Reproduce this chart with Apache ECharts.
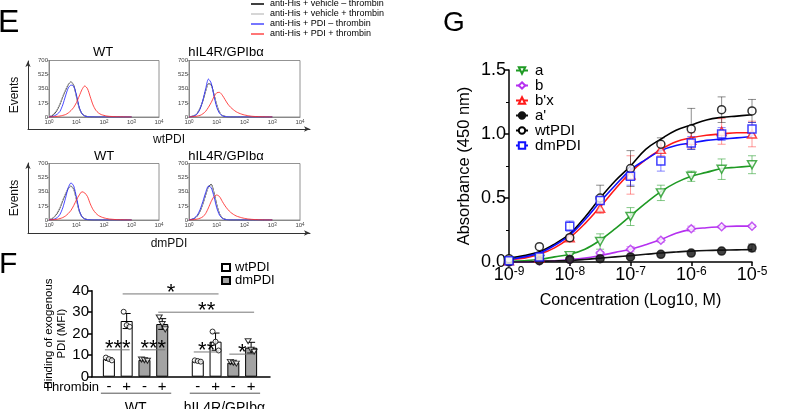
<!DOCTYPE html>
<html><head><meta charset="utf-8">
<script src="https://cdn.jsdelivr.net/npm/echarts@6/dist/echarts.min.js"></script>
<style>html,body{margin:0;padding:0;background:#fff}#c{width:800px;height:409px}</style>
</head><body><div id="c"></div>
<script>
const FF = 'Liberation Sans, Arial, Helvetica, sans-serif';

// ---------- Panel E: flow histograms (x in log10 decades, counts) ----------
const histBins = [0,0.1,0.2,0.3,0.4,0.5,0.6,0.7,0.8,0.9,1.0,1.1,1.2,1.3,1.4,1.5,1.6,1.7,1.8,1.9,2.0,2.1,2.2,2.3,2.4,2.5,2.6,2.7,2.8,2.9,3.0];
const eNames = ['anti-His + vehicle \u2013 thrombin','anti-His + vehicle + thrombin','anti-His + PDI \u2013 thrombin','anti-His + PDI + thrombin'];
// WT / wtPDI
const e1Black = [5,15,40,90,160,250,330,400,435,390,250,110,40,15,6,3,2,1,0,0,0,0,0,0,0,0,0,0,0,0,0];
const e1Gray  = [8,20,50,100,170,260,340,405,430,380,240,105,40,15,6,3,2,1,0,0,0,0,0,0,0,0,0,0,0,0,0];
const e1Blue  = [2,6,15,35,70,150,260,360,395,380,270,120,40,12,4,2,1,0,0,0,0,0,0,0,0,0,0,0,0,0,0];
const e1Red   = [0,2,4,8,12,20,30,50,80,120,180,260,340,385,350,250,150,85,50,30,20,12,8,6,4,3,2,1,0,0,0];
// hIL4R/GPIba / wtPDI
const e2Black = [3,8,20,50,110,200,320,410,400,280,150,60,20,8,3,1,0,0,0,0,0,0,0,0,0,0,0,0,0,0,0];
const e2Gray  = [4,10,22,55,115,205,325,405,390,275,145,58,20,8,3,1,0,0,0,0,0,0,0,0,0,0,0,0,0,0,0];
const e2Blue  = [2,5,15,40,100,210,350,470,420,260,120,45,15,5,2,0,0,0,0,0,0,0,0,0,0,0,0,0,0,0,0];
const e2Red   = [1,3,6,12,20,40,70,120,180,250,300,305,270,215,160,120,90,65,48,35,25,18,12,8,6,4,3,2,1,0,0];
// WT / dmPDI
const e3Black = [5,15,40,85,150,240,320,390,420,380,250,110,40,15,6,2,1,0,0,0,0,0,0,0,0,0,0,0,0,0,0];
const e3Gray  = [7,18,45,95,160,250,330,395,415,370,240,105,40,15,6,2,1,0,0,0,0,0,0,0,0,0,0,0,0,0,0];
const e3Blue  = [2,5,12,30,70,150,270,400,460,420,280,120,40,12,4,2,0,0,0,0,0,0,0,0,0,0,0,0,0,0,0];
const e3Red   = [1,3,6,10,18,30,50,80,120,180,250,310,350,335,290,200,130,85,55,38,26,18,12,9,6,4,3,2,1,0,0];
// hIL4R/GPIba / dmPDI
const e4Black = [3,8,20,50,110,200,310,410,440,340,190,80,28,10,4,1,0,0,0,0,0,0,0,0,0,0,0,0,0,0,0];
const e4Gray  = [4,10,24,55,115,205,315,405,430,330,185,78,28,10,4,1,0,0,0,0,0,0,0,0,0,0,0,0,0,0,0];
const e4Blue  = [3,8,25,60,130,230,340,420,400,290,150,60,20,6,2,0,0,0,0,0,0,0,0,0,0,0,0,0,0,0,0];
const e4Red   = [1,3,6,12,22,40,80,150,230,290,310,290,230,175,130,95,70,50,38,28,20,14,10,7,5,3,2,1,0,0,0];

// ---------- Panel F: bars ----------
const fCats  = ['-','+','-','+','','-','+','-','+'];
const fSlot  = [0,1,2,3,5,6,7,8];
const fKind  = ['wt','wt','dm','dm','wt','wt','dm','dm'];
const fMean  = [8.2,25.9,7.8,24.5,7.3,16.3,6.5,13.5];
const fSd    = [0.6,3.5,0.4,2.5,0.4,4.0,0.5,2.5];
const fDots  = [[8.9,8.2,7.6],[30.2,24.0,23.2],[8.0,7.7,7.4],[27.5,24.5,22.0],[7.6,7.3,7.0],[21.0,16.3,12.2],[6.9,6.5,6.1],[16.5,12.5,11.6]];
const fSig   = [[0,1,12.5,'***'],[2,3,12.5,'***'],[5,6,11.5,'**'],[7,8,10.5,'*'],[1,6,38.5,'*'],[3,8,30.0,'**']];
const fGroups = [[0,3,'WT'],[5,8,'hIL4R/GPIb\u03b1']];

// ---------- Panel G: binding curves (x = log10 M) ----------
const gX    = [-9,-8.5,-8,-7.5,-7,-6.5,-6,-5.5,-5];
const gA    = [0.00,0.02,0.05,0.16,0.355,0.54,0.67,0.725,0.76];
const gAsd  = [0,0,0.01,0.06,0.07,0.06,0.04,0.08,0.07];
const gB    = [0.00,0.01,0.02,0.07,0.10,0.17,0.26,0.275,0.28];
const gBsd  = [0,0,0,0.01,0.02,0.015,0.02,0.01,0.01];
const gBx   = [0.01,0.03,0.19,0.42,0.68,0.88,0.95,1.02,1.00];
const gBxsd = [0,0,0.02,0.04,0.15,0.05,0.06,0.10,0.10];
const gAp   = [0.00,0.01,0.02,0.026,0.04,0.06,0.07,0.085,0.11];
const gApsd = [0,0,0,0,0,0,0,0,0.03];
const gWt   = [0.026,0.12,0.19,0.50,0.73,0.92,1.04,1.19,1.18];
const gWtsd = [0,0,0.02,0.10,0.14,0.05,0.16,0.10,0.09];
const gDm   = [0.01,0.04,0.28,0.48,0.67,0.79,0.93,1.00,1.04];
const gDmsd = [0,0,0.04,0.03,0.07,0.08,0.05,0.05,0.05];
const gCurveX = [-9,-8.75,-8.5,-8.25,-8,-7.75,-7.5,-7.25,-7,-6.75,-6.5,-6.25,-6,-5.75,-5.5,-5.25,-5];
const gCurveA  = [0.005,0.01,0.02,0.04,0.06,0.10,0.17,0.26,0.36,0.46,0.55,0.62,0.67,0.70,0.73,0.74,0.75];
const gCurveB  = [0.0,0.0,0.005,0.01,0.02,0.03,0.05,0.075,0.10,0.135,0.175,0.225,0.255,0.268,0.275,0.28,0.28];
const gCurveBx = [0.02,0.03,0.06,0.11,0.19,0.30,0.43,0.57,0.70,0.80,0.88,0.94,0.97,0.99,1.00,1.01,1.01];
const gCurveAp = [0.0,0.0,0.005,0.008,0.012,0.02,0.03,0.04,0.05,0.06,0.07,0.078,0.085,0.09,0.093,0.095,0.097];
const gCurveWt = [0.03,0.05,0.08,0.14,0.22,0.35,0.50,0.635,0.75,0.88,0.96,1.03,1.07,1.11,1.13,1.14,1.15];
const gCurveDm = [0.02,0.04,0.07,0.13,0.21,0.33,0.47,0.60,0.72,0.80,0.87,0.91,0.93,0.95,0.96,0.97,0.98];

const chart = echarts.init(document.getElementById('c'));
const grid = [], xAxis = [], yAxis = [], series = [];

// ---- E histograms ----
const histGrids = [
  {left:49, top:60.5, width:110, height:56.5},
  {left:189, top:60.5, width:111, height:56.5},
  {left:49, top:163.5, width:110, height:56.5},
  {left:189, top:163.5, width:111, height:56.5}
];
const histSets = [[e1Black,e1Gray,e1Blue,e1Red],[e2Black,e2Gray,e2Blue,e2Red],[e3Black,e3Gray,e3Blue,e3Red],[e4Black,e4Gray,e4Blue,e4Red]];
const histColors = ['#000000','#c8c8c8','rgba(40,40,255,0.85)','rgba(255,40,40,0.85)'];
const histOrder = [1,2,0,3];
histGrids.forEach((g,gi)=>{
  grid.push(Object.assign({show:true, borderColor:'#777', borderWidth:0.8, backgroundColor:'transparent'}, g));
  xAxis.push({gridIndex:gi, type:'value', min:0, max:4, interval:1,
    axisLine:{show:true, lineStyle:{color:'#777', width:0.8}}, axisTick:{show:false}, splitLine:{show:false},
    axisLabel:{margin:2, color:'#444', formatter:v=>'{b|10}{s|'+v+'}',
      rich:{b:{fontSize:6, fontFamily:FF, color:'#444'}, s:{fontSize:4.5, verticalAlign:'top', fontFamily:FF, color:'#444'}}}});
  yAxis.push({gridIndex:gi, type:'value', min:0, max:700, interval:175,
    axisLine:{show:true, lineStyle:{color:'#777', width:0.8}}, axisTick:{show:true, length:2, lineStyle:{color:'#777', width:0.6}},
    splitLine:{show:false}, axisLabel:{fontSize:6, margin:1, color:'#444', fontFamily:FF}});
  histOrder.forEach(k=>{
    series.push({type:'line', name:eNames[k], xAxisIndex:gi, yAxisIndex:gi, symbol:'none', smooth:0.25,
      data: histBins.map((b,i)=>[b, histSets[gi][k][i]]),
      lineStyle:{color:histColors[k], width:1}, itemStyle:{color:histColors[k]}, z:2+k, silent:true, animation:false});
  });
});

// ---- E outer arrow axes ----
[[61,68,'wtPDI'],[163,70,'dmPDI']].forEach(([top,h,nm],j)=>{
  const gi = grid.length;
  grid.push({left:28, top:top, width:282, height:h, show:false});
  xAxis.push({gridIndex:gi, type:'value', min:0, max:1, axisLine:{show:true, symbol:['none','arrow'], symbolSize:[4,6], lineStyle:{color:'#333', width:1}},
    axisTick:{show:false}, axisLabel:{show:false}, splitLine:{show:false},
    name:nm, nameLocation:'middle', nameGap:5, nameTextStyle:{fontSize:12, fontFamily:FF, color:'#111', verticalAlign:'top'}});
  yAxis.push({gridIndex:gi, type:'value', min:0, max:1, axisLine:{show:true, symbol:['none','arrow'], symbolSize:[4,6], lineStyle:{color:'#333', width:1}},
    axisTick:{show:false}, axisLabel:{show:false}, splitLine:{show:false},
    name:'Events', nameLocation:'middle', nameGap:7, nameRotate:90, nameTextStyle:{fontSize:12, fontFamily:FF, color:'#111'}});
});

// ---- F frame grid ----
const fFrame = grid.length;
grid.push({left:92, top:290.7, width:178, height:86, show:false});
xAxis.push({gridIndex:fFrame, type:'value', min:0, max:1, axisLine:{show:true, lineStyle:{color:'#000', width:1.5}},
  axisTick:{show:false}, axisLabel:{show:false}, splitLine:{show:false}});
yAxis.push({gridIndex:fFrame, type:'value', min:0, max:40, interval:10, axisLine:{show:true, lineStyle:{color:'#000', width:1.5}},
  axisTick:{show:true, length:4, lineStyle:{width:1.5}}, splitLine:{show:false},
  axisLabel:{fontSize:15, margin:3, color:'#000', fontFamily:FF},
  name:'Binding of exogenous\nPDI (MFI)', nameLocation:'middle', nameGap:17, nameRotate:90,
  nameTextStyle:{fontSize:11.5, lineHeight:13, fontFamily:FF, color:'#000', align:'center'}});

// ---- F data grid ----
const fG = grid.length;
grid.push({left:100, top:290.7, width:160, height:86, show:false});
xAxis.push({gridIndex:fG, type:'category', data:fCats, axisLine:{show:false}, axisTick:{show:false},
  axisLabel:{fontSize:15, margin:3, color:'#000', fontFamily:FF, interval:0},
  name:'Thrombin', nameLocation:'start', nameGap:1, nameTextStyle:{fontSize:13, fontFamily:FF, color:'#000', verticalAlign:'top', padding:[4,0,0,0]}});
yAxis.push({gridIndex:fG, type:'value', min:0, max:40, show:false});

series.push({type:'bar', name:'F-wtPDI', xAxisIndex:fG, yAxisIndex:fG, barWidth:12, barGap:'-100%',
  data: fCats.map((c,i)=>{const k=fSlot.indexOf(i); return (k>=0 && fKind[k]==='wt') ? fMean[k] : '-';}),
  itemStyle:{color:'#ffffff', borderColor:'#000', borderWidth:1}, z:2, animation:false});
series.push({type:'bar', name:'F-dmPDI', xAxisIndex:fG, yAxisIndex:fG, barWidth:12, barGap:'-100%',
  data: fCats.map((c,i)=>{const k=fSlot.indexOf(i); return (k>=0 && fKind[k]==='dm') ? fMean[k] : '-';}),
  itemStyle:{color:'#a3a3a3', borderColor:'#000', borderWidth:1}, z:2, animation:false});

function errItem(color, cap, lw){
  return function(params, api){
    const x = api.value(0), m = api.value(1), s = api.value(2);
    const t = api.coord([x, m+s]), b = api.coord([x, m-s]);
    const st = {stroke:color, lineWidth:lw};
    return {type:'group', children:[
      {type:'line', shape:{x1:t[0], y1:t[1], x2:b[0], y2:b[1]}, style:st},
      {type:'line', shape:{x1:t[0]-cap, y1:t[1], x2:t[0]+cap, y2:t[1]}, style:st},
      {type:'line', shape:{x1:b[0]-cap, y1:b[1], x2:b[0]+cap, y2:b[1]}, style:st}
    ]};
  };
}
series.push({type:'custom', name:'F-err', xAxisIndex:fG, yAxisIndex:fG, z:5, clip:false, animation:false,
  renderItem: errItem('#000', 4, 1), data: fMean.map((m,k)=>[fSlot[k], m, fSd[k]])});
// dots
const dotOff = [-3,0,3];
['wt','dm'].forEach(kind=>{
  const pts = [];
  fMean.forEach((m,k)=>{ if(fKind[k]===kind) fDots[k].forEach((v,j)=>pts.push({value:[fSlot[k], v], symbolOffset:[dotOff[j],0]})); });
  series.push({type:'scatter', name:'F-dots-'+kind, xAxisIndex:fG, yAxisIndex:fG, z:6, animation:false,
    symbol: kind==='wt' ? 'circle' : 'path://M0,0 L10,0 L5,9 Z', symbolSize: kind==='wt' ? 5 : [6,5],
    itemStyle:{color:'#fff', borderColor:'#000', borderWidth:1}, data:pts});
});
// significance
series.push({type:'custom', name:'F-sig', xAxisIndex:fG, yAxisIndex:fG, z:7, clip:false, animation:false,
  data: fSig.map(s=>[s[0], s[1], s[2]]),
  renderItem:(params, api)=>{
    const a = api.coord([api.value(0), api.value(2)]), b = api.coord([api.value(1), api.value(2)]);
    const txt = fSig[params.dataIndex][3];
    return {type:'group', children:[
      {type:'line', shape:{x1:a[0]-4, y1:a[1], x2:b[0]+3, y2:b[1]}, style:{stroke:'#777', lineWidth:1}},
      {type:'text', style:{text:txt, x:(a[0]+b[0])/2, y:a[1]+10, textAlign:'center', textVerticalAlign:'bottom', fontSize:22, fontFamily:FF, fill:'#000'}}
    ]};
  }});
// group labels
series.push({type:'custom', name:'F-groups', xAxisIndex:fG, yAxisIndex:fG, z:7, clip:false, animation:false,
  data: fGroups.map(g=>[g[0], g[1]]),
  renderItem:(params, api)=>{
    const a = api.coord([api.value(0), 0]), b = api.coord([api.value(1), 0]);
    return {type:'group', children:[
      {type:'line', shape:{x1:a[0]-8, y1:a[1]+16.5, x2:b[0]+9, y2:b[1]+16.5}, style:{stroke:'#555', lineWidth:1}},
      {type:'text', style:{text:fGroups[params.dataIndex][2], x:(a[0]+b[0])/2, y:a[1]+31, textAlign:'center', textVerticalAlign:'middle', fontSize:14, fontFamily:FF, fill:'#000'}}
    ]};
  }});

// ---- G ----
const gG = grid.length;
grid.push({left:509, top:70, width:243, height:192, show:false});
xAxis.push({gridIndex:gG, type:'value', min:-9, max:-5, interval:1,
  axisLine:{show:true, lineStyle:{color:'#000', width:1.5}}, axisTick:{show:true, length:4, lineStyle:{width:1.5}},
  splitLine:{show:false},
  axisLabel:{margin:4, color:'#000', formatter:v=>'{b|10}{s|'+v+'}',
    rich:{b:{fontSize:18, fontFamily:FF, color:'#000'}, s:{fontSize:12, verticalAlign:'top', fontFamily:FF, color:'#000'}}},
  name:'Concentration (Log10, M)', nameLocation:'middle', nameGap:31, nameTextStyle:{fontSize:16, fontFamily:FF, color:'#000'}});
yAxis.push({gridIndex:gG, type:'value', min:0, max:1.5, interval:0.5,
  axisLine:{show:true, lineStyle:{color:'#000', width:1.5}}, axisTick:{show:true, length:5, lineStyle:{width:1.5}},
  minorTick:{show:true, splitNumber:2, length:3, lineStyle:{color:'#000', width:1}},
  splitLine:{show:false},
  axisLabel:{fontSize:18, margin:3, color:'#000', fontFamily:FF, formatter:v=>v.toFixed(1)},
  name:'Absorbance (450 nm)', nameLocation:'middle', nameGap:36, nameTextStyle:{fontSize:16.5, fontFamily:FF, color:'#000'}});

const downTri = 'path://M0,0 L10,0 L5,9 Z';
const gSets = [
  {name:'a',     color:'#1f9a24', err:'rgba(31,154,36,0.55)',  sym:downTri,   size:[9,8], fill:'#fff', pts:gA,  sd:gAsd,  curve:gCurveA},
  {name:'b',     color:'#b530f0', err:'rgba(181,48,240,0.5)', sym:'diamond', size:[8,8], fill:'#fff', pts:gB,  sd:gBsd,  curve:gCurveB},
  {name:"b'x",   color:'#ff1a1a', err:'rgba(255,26,26,0.45)', sym:'triangle',size:[9,8], fill:'#fff', pts:gBx, sd:gBxsd, curve:gCurveBx},
  {name:"a'",    color:'#111111', err:'rgba(0,0,0,0.45)',     sym:'circle',  size:[8,8], fill:'#111', pts:gAp, sd:gApsd, curve:gCurveAp},
  {name:'wtPDI', color:'#000000', err:'rgba(0,0,0,0.45)',     sym:'circle',  size:[8,8], fill:'#fff', pts:gWt, sd:gWtsd, curve:gCurveWt},
  {name:'dmPDI', color:'#1010ff', err:'rgba(16,16,255,0.5)',  sym:'rect',    size:[8,8], fill:'#fff', pts:gDm, sd:gDmsd, curve:gCurveDm}
];
gSets.forEach((s,i)=>{
  series.push({type:'line', name:s.name, xAxisIndex:gG, yAxisIndex:gG, smooth:0.4, showSymbol:false,
    symbol:s.sym, symbolSize:s.size, data:gCurveX.map((x,j)=>[x, s.curve[j]]),
    lineStyle:{color:s.color, width:1.6}, itemStyle:{color:s.fill, borderColor:s.color, borderWidth:1.5},
    z:3, animation:false, silent:true});
});
gSets.forEach((s,i)=>{
  series.push({type:'custom', name:s.name+'-err', xAxisIndex:gG, yAxisIndex:gG, z:4, clip:false, animation:false,
    renderItem: errItem(s.err, 4, 1), data: gX.map((x,j)=>[x, s.pts[j], s.sd[j]]).filter(d=>d[2]>0)});
});
gSets.forEach((s,i)=>{
  series.push({type:'scatter', name:s.name, xAxisIndex:gG, yAxisIndex:gG, z:6+i, clip:false, animation:false,
    symbol:s.sym, symbolSize:s.size, data:gX.map((x,j)=>[x, s.pts[j]]),
    itemStyle:{color:s.fill, borderColor:s.color, borderWidth:1.5}});
});

const option = {
  backgroundColor:'#fff',
  animation:false,
  textStyle:{fontFamily:FF},
  grid, xAxis, yAxis, series,
  title:[
    {text:'E', left:-2, top:7, padding:0, textStyle:{fontSize:32, fontWeight:'normal', fontFamily:FF, color:'#000'}},
    {text:'F', left:-1, top:250, padding:0, textStyle:{fontSize:30, fontWeight:'normal', fontFamily:FF, color:'#000'}},
    {text:'G', left:443, top:9, padding:0, textStyle:{fontSize:28, fontWeight:'normal', fontFamily:FF, color:'#000'}},
    {text:'WT', left:103, top:45.5, padding:0, textAlign:'center', textStyle:{fontSize:13, fontWeight:'normal', fontFamily:FF, color:'#000'}},
    {text:'hIL4R/GPIb\u03b1', left:226, top:45.5, padding:0, textAlign:'center', textStyle:{fontSize:13, fontWeight:'normal', fontFamily:FF, color:'#000'}},
    {text:'WT', left:104, top:149.5, padding:0, textAlign:'center', textStyle:{fontSize:13, fontWeight:'normal', fontFamily:FF, color:'#000'}},
    {text:'hIL4R/GPIb\u03b1', left:226, top:149.5, padding:0, textAlign:'center', textStyle:{fontSize:13, fontWeight:'normal', fontFamily:FF, color:'#000'}}
  ],
  legend:[
    {data:gSets.map(s=>s.name), orient:'vertical', left:515, top:63, padding:0, itemWidth:12, itemHeight:8, itemGap:0,
      selectedMode:false, textStyle:{fontSize:15, lineHeight:14.2, fontFamily:FF, color:'#000', padding:[0,0,0,2]}},
    {data:eNames, orient:'vertical', left:251, top:-1, padding:0, itemWidth:13, itemHeight:1.5, itemGap:0, selectedMode:false,
      icon:'rect', textStyle:{fontSize:9, lineHeight:10, fontFamily:FF, color:'#000', padding:[0,0,0,1]}},
    {data:['F-wtPDI','F-dmPDI'], orient:'vertical', left:221, top:261, padding:0, itemWidth:8, itemHeight:7, itemGap:0, icon:'rect',
      selectedMode:false, formatter:n=>n.slice(2), textStyle:{fontSize:13, lineHeight:11.5, fontFamily:FF, color:'#000'}}
  ]
};
chart.setOption(option);
</script></body></html>
